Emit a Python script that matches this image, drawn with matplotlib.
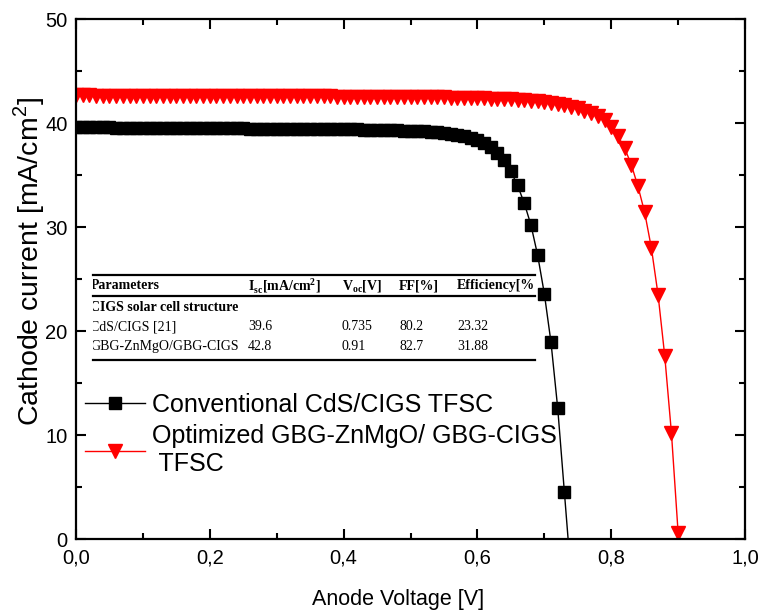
import matplotlib
matplotlib.use("Agg")
import matplotlib.pyplot as plt
from matplotlib.ticker import MultipleLocator, FuncFormatter
from matplotlib.patches import Rectangle

plt.rcParams['font.family'] = 'Liberation Sans'
plt.rcParams['mathtext.fontset'] = 'custom'
plt.rcParams['mathtext.rm'] = 'Liberation Serif'
plt.rcParams['mathtext.bf'] = 'Liberation Serif:bold'
plt.rcParams['mathtext.sf'] = 'Liberation Sans'

# J-V data (V in volts, J in mA/cm2)
v_conv = [0.00, 0.01, 0.02, 0.03, 0.04, 0.05, 0.06, 0.07, 0.08, 0.09,
          0.10, 0.11, 0.12, 0.13, 0.14, 0.15, 0.16, 0.17, 0.18, 0.19,
          0.20, 0.21, 0.22, 0.23, 0.24, 0.25, 0.26, 0.27, 0.28, 0.29,
          0.30, 0.31, 0.32, 0.33, 0.34, 0.35, 0.36, 0.37, 0.38, 0.39,
          0.40, 0.41, 0.42, 0.43, 0.44, 0.45, 0.46, 0.47, 0.48, 0.49,
          0.50, 0.51, 0.52, 0.53, 0.54, 0.55, 0.56, 0.57, 0.58, 0.59,
          0.60, 0.61, 0.62, 0.63, 0.64, 0.65, 0.66, 0.67, 0.68, 0.69,
          0.70, 0.71, 0.72, 0.73, 0.74]
j_conv = [39.60, 39.60, 39.59, 39.59, 39.58, 39.58, 39.57, 39.57, 39.56, 39.56,
          39.55, 39.55, 39.54, 39.54, 39.53, 39.53, 39.52, 39.52, 39.51, 39.51,
          39.50, 39.50, 39.49, 39.49, 39.48, 39.48, 39.47, 39.47, 39.46, 39.46,
          39.45, 39.45, 39.44, 39.44, 39.43, 39.43, 39.42, 39.41, 39.41, 39.40,
          39.40, 39.39, 39.38, 39.37, 39.36, 39.35, 39.34, 39.32, 39.30, 39.28,
          39.25, 39.22, 39.19, 39.15, 39.10, 39.03, 38.95, 38.85, 38.72, 38.55,
          38.38, 38.10, 37.70, 37.15, 36.40, 35.35, 34.00, 32.30, 30.20, 27.30,
          23.60, 18.90, 12.60, 4.50, -3.60]

v_opt = [0.00, 0.01, 0.02, 0.03, 0.04, 0.05, 0.06, 0.07, 0.08, 0.09,
         0.10, 0.11, 0.12, 0.13, 0.14, 0.15, 0.16, 0.17, 0.18, 0.19,
         0.20, 0.21, 0.22, 0.23, 0.24, 0.25, 0.26, 0.27, 0.28, 0.29,
         0.30, 0.31, 0.32, 0.33, 0.34, 0.35, 0.36, 0.37, 0.38, 0.39,
         0.40, 0.41, 0.42, 0.43, 0.44, 0.45, 0.46, 0.47, 0.48, 0.49,
         0.50, 0.51, 0.52, 0.53, 0.54, 0.55, 0.56, 0.57, 0.58, 0.59,
         0.60, 0.61, 0.62, 0.63, 0.64, 0.65, 0.66, 0.67, 0.68, 0.69,
         0.70, 0.71, 0.72, 0.73, 0.74, 0.75, 0.76, 0.77, 0.78, 0.79,
         0.80, 0.81, 0.82, 0.83, 0.84, 0.85, 0.86, 0.87, 0.88, 0.89,
         0.90]
j_opt = [42.65, 42.65, 42.65, 42.64, 42.64, 42.64, 42.64, 42.63, 42.63, 42.63,
         42.62, 42.62, 42.62, 42.62, 42.61, 42.61, 42.61, 42.61, 42.60, 42.60,
         42.60, 42.60, 42.60, 42.59, 42.59, 42.59, 42.59, 42.59, 42.58, 42.58,
         42.58, 42.58, 42.57, 42.57, 42.57, 42.57, 42.56, 42.56, 42.56, 42.55,
         42.55, 42.55, 42.54, 42.54, 42.53, 42.53, 42.52, 42.52, 42.51, 42.51,
         42.50, 42.49, 42.49, 42.48, 42.47, 42.46, 42.45, 42.44, 42.43, 42.42,
         42.40, 42.38, 42.35, 42.33, 42.30, 42.27, 42.23, 42.19, 42.14, 42.08,
         42.01, 41.93, 41.83, 41.71, 41.57, 41.40, 41.20, 40.97, 40.70, 40.25,
         39.65, 38.75, 37.60, 36.00, 33.90, 31.40, 28.00, 23.50, 17.60, 10.20,
         0.60]

label_conv = "Conventional CdS/CIGS TFSC"
label_opt = "Optimized GBG-ZnMgO/ GBG-CIGS\n TFSC"

# inset table (pasted into the figure in the original)
table_header = ["Parameters", r"I$_{\mathbf{sc}}$[mA/cm$^{\mathbf{2}}$]",
                r"V$_{\mathbf{oc}}$[V]", "FF[%]", "Efficiency[%"]
table_group = "CIGS solar cell structure"
table_rows = [["CdS/CIGS [21]", "39.6", "0.735", "80.2", "23.32"],
              ["GBG-ZnMgO/GBG-CIGS", "42.8", "0.91", "82.7", "31.88"]]

fig = plt.figure(figsize=(7.6, 6.14), dpi=100)
ax = fig.add_axes([0.1, 0.1221, 0.8803, 0.8469])

ax.plot(v_conv, j_conv, color='black', lw=1, marker='s', ms=8,
        label=label_conv)
ax.plot(v_opt, j_opt, color='red', lw=1, marker='v', ms=10.5,
        label=label_opt)

ax.set_xlim(0, 1.0)
ax.set_ylim(0, 50)
ax.xaxis.set_major_locator(MultipleLocator(0.2))
ax.xaxis.set_minor_locator(MultipleLocator(0.1))
ax.yaxis.set_major_locator(MultipleLocator(10))
ax.yaxis.set_minor_locator(MultipleLocator(5))
ax.xaxis.set_major_formatter(FuncFormatter(lambda x, p: f"{x:.1f}".replace('.', ',')))
ax.tick_params(which='both', direction='in', top=True, right=True, width=1.5,
               labelsize=14.5)
ax.tick_params(which='major', length=7)
ax.tick_params(which='minor', length=4)
ax.tick_params(axis='x', pad=7)
ax.tick_params(axis='y', pad=6)
for s in ax.spines.values():
    s.set_linewidth(1.6)

ax.set_xlabel("Anode Voltage [V]", fontsize=15.5)
ax.set_ylabel(r"Cathode current [mA/cm$^\mathsf{2}$]", fontsize=20.5)
ax.xaxis.set_label_coords(0.481, -0.097)
ax.yaxis.set_label_coords(-0.043, 0.533)

ax.legend(loc='upper left', bbox_to_anchor=(-0.012, 0.315), frameon=False,
          fontsize=18, handlelength=2.4, handletextpad=0.25, labelspacing=0.3,
          borderaxespad=0.3)

# table drawn in pixel coordinates of the figure
def px(x, y):
    return x / 760, 1 - y / 614

clip = Rectangle((93 / 760, 0), (535 - 93) / 760, 1, transform=fig.transFigure)
col_x = [90.5, 248, 341.5, 399, 457]
row_y = [285.5, 307.5, 327, 346.5]
tkw = dict(family='Liberation Serif', fontsize=10, va='center', ha='left',
           transform=fig.transFigure)
for i, h in enumerate(table_header):
    t = fig.text(*px(col_x[i], row_y[0]), h, fontweight='bold', **tkw)
    t.set_clip_path(clip)
t = fig.text(*px(col_x[0], row_y[1]), table_group, fontweight='bold', **tkw)
t.set_clip_path(clip)
for r, row in enumerate(table_rows):
    for i, cell in enumerate(row):
        t = fig.text(*px(col_x[i], row_y[2 + r]), cell, **tkw)
        t.set_clip_path(clip)
for yl in [275, 295.5, 359.5]:
    x0, y0 = px(93, yl)
    x1, _ = px(535, yl)
    fig.add_artist(plt.Line2D([x0, x1], [y0, y0], color='black', lw=1.6,
                              transform=fig.transFigure))

fig.savefig("out.png", dpi=100)
